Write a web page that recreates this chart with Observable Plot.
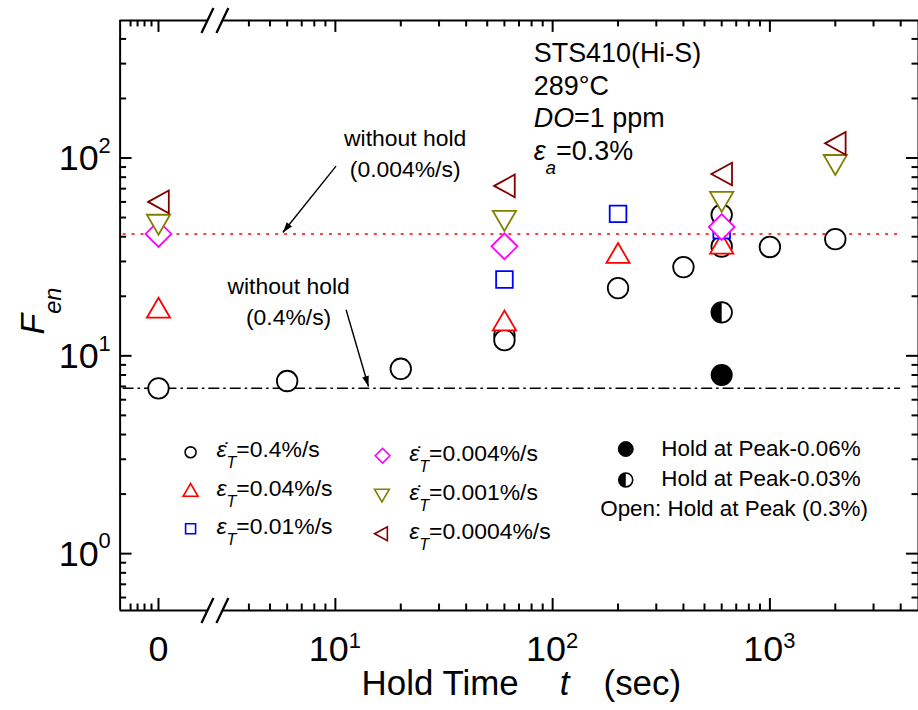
<!DOCTYPE html>
<html>
<head>
<meta charset="utf-8">
<script src="https://cdn.jsdelivr.net/npm/d3@7"></script>
<script src="https://cdn.jsdelivr.net/npm/@observablehq/plot@0.6"></script>
<style>
  html, body { margin: 0; padding: 0; background: #fff; overflow: hidden; }
  #chart { width: 918px; height: 710px; overflow: hidden; }
</style>
</head>
<body>
<div id="chart"></div>
<script>
// ---- Fen versus hold time, STS410 (Hi-S), 289 °C, DO = 1 ppm, strain amplitude 0.3% ----
// Hold time t (s); t = 0 sits on the short stub left of the axis break.
const rate0_4T    = [0, 6, 20, 60, 60, 200, 400, 600, 600, 1000, 2000];
const rate0_4F    = [6.85, 7.46, 8.6, 12.7, 12.0, 22.0, 28.1, 51.6, 35.7, 35.5, 38.9];
const rate0_04T   = [0, 60, 200, 600];
const rate0_04F   = [17.5, 15.1, 33.1, 36.9];
const rate0_01T   = [60, 200, 600];
const rate0_01F   = [24.3, 52.2, 43.2];
const rate0_004T  = [0, 60, 600];
const rate0_004F  = [41.3, 35.8, 44.8];
const rate0_001T  = [0, 60, 600, 2000];
const rate0_001F  = [46.0, 48.1, 60.0, 92.2];
const rate0_0004T = [0, 60, 600, 2000];
const rate0_0004F = [60.0, 72.3, 83.0, 118.6];
const peak006T = [600];   // hold at peak - 0.06%
const peak006F = [8.0];
const peak003T = [600];   // hold at peak - 0.03%
const peak003F = [16.6];

// Fen without hold
const noHold0_004 = 41.3;
const noHold0_4 = 6.85;

// Axis ticks
const xZero = [0];
const xDecades = [10, 100, 1000];
const xMajor = [...xZero, ...xDecades];
const xMinor = [-4, -3, -2, -1, 4, 5, 6, 7, 8, 9, 20, 30, 40, 50, 60, 70, 80, 90,
                200, 300, 400, 500, 600, 700, 800, 900, 2000, 3000, 4000];
const xDecadeExp = ["1", "2", "3"];
const yMajor = [1, 10, 100];
const yMinor = [0.6, 0.7, 0.8, 0.9, 2, 3, 4, 5, 6, 7, 8, 9, 20, 30, 40, 50, 60, 70, 80, 90, 200, 300, 400];
const yDecadeExp = ["0", "1", "2"];

// Text
const infoLines = ["STS410(Hi-S)", "289°C", "*DO*=1 ppm", "*ε*_{*a*}=0.3%"];
const noHoldLabels = ["without hold\n(0.004%/s)", "without hold\n(0.4%/s)"];
const seriesLabels = ["*ε\u0307*_{*T*}=0.4%/s", "*ε*_{*T*}=0.04%/s", "*ε*_{*T*}=0.01%/s",
                      "*ε\u0307*_{*T*}=0.004%/s", "*ε\u0307*_{*T*}=0.001%/s", "*ε*_{*T*}=0.0004%/s"];
const peakLabels = ["Hold at Peak-0.06%", "Hold at Peak-0.03%", "Open: Hold at Peak (0.3%)"];

// ---- layout ----
const W = 921, H = 710, mL = 120, mR = 0, mT = 20, mB = 98;
const frameW = W - mL - mR, frameH = H - mT - mB;
const FONT = "'Liberation Sans', Arial, Helvetica, sans-serif";

// Broken x axis: log decades for t > 0, a short linear stub holding t = 0.
const zeroPos = 0.1858, stubStep = 7 / 218;
const xPos = t => t > 0 ? Math.log10(t) : zeroPos + t * stubStep;
const xEdges = [-5.5, 4830];
const xBreak = 2.79;
const yDomain = [0.516, 496];

// ---- marker shapes ----
const rad = size => Math.sqrt(size / Math.PI);
const sym = {
  up:      {draw(c, z) { const s = rad(z); c.moveTo(0, -s); c.lineTo(1.165 * s, s); c.lineTo(-1.165 * s, s); c.closePath(); }},
  down:    {draw(c, z) { const s = rad(z); c.moveTo(0, s); c.lineTo(1.165 * s, -s); c.lineTo(-1.165 * s, -s); c.closePath(); }},
  left:    {draw(c, z) { const s = rad(z); c.moveTo(-1.035 * s, 0); c.lineTo(1.035 * s, -1.135 * s); c.lineTo(1.035 * s, 1.135 * s); c.closePath(); }},
  square:  {draw(c, z) { const s = rad(z); c.rect(-0.835 * s, -0.835 * s, 1.67 * s, 1.67 * s); }},
  diamond: {draw(c, z) { const s = rad(z) * 1.3; c.moveTo(0, -s); c.lineTo(s, 0); c.lineTo(0, s); c.lineTo(-s, 0); c.closePath(); }},
  half:    {draw(c, z) { const s = rad(z); c.moveTo(0, -s); c.arc(0, 0, s, -Math.PI / 2, Math.PI / 2, true); c.closePath(); }},
  slash:   {draw(c) { c.moveTo(-6, 12.5); c.lineTo(6, -12.5); }},
  head:    {draw(c) { c.moveTo(0, 0); c.lineTo(3.4, 10.5); c.lineTo(-3.4, 10.5); c.closePath(); }}
};

const series = [
  {t: rate0_4T,    F: rate0_4F,    symbol: "circle",    color: "#000000", r: 10.3, lr: 5.5},
  {t: rate0_04T,   F: rate0_04F,   symbol: sym.up,      color: "#ff0000", r: 10,   lr: 6.4},
  {t: rate0_01T,   F: rate0_01F,   symbol: sym.square,  color: "#0000ff", r: 10,   lr: 6.0},
  {t: rate0_004T,  F: rate0_004F,  symbol: sym.diamond, color: "#ff00ff", r: 10,   lr: 5.7},
  {t: rate0_001T,  F: rate0_001F,  symbol: sym.down,    color: "#808000", r: 10,   lr: 6.4},
  {t: rate0_0004T, F: rate0_0004F, symbol: sym.left,    color: "#800000", r: 10,   lr: 6.2}
];
const rows = (ts, Fs) => ts.map((t, i) => ({t, F: Fs[i]}));

// legend placement (px from the frame's top-left corner)
const legendMarker = [[70.7, 433.3], [70.7, 471], [70.7, 510], [263.3, 436.7], [262.7, 476.7], [261.7, 515]];
const legendText   = [[96.7, 437.7], [96.7, 476.7], [96.7, 515], [290, 442], [290, 481], [290, 520]];

const marks = [];

// reference lines (without hold)
marks.push(Plot.ruleY([noHold0_004], {stroke: "#ff0000", strokeWidth: 1.7, strokeDasharray: "3,6", insetLeft: 3, insetRight: 18}));
marks.push(Plot.ruleY([noHold0_4], {stroke: "#000000", strokeWidth: 1.5, strokeDasharray: "11,4,2.5,4", insetLeft: 3, insetRight: 18}));

// frame with a gap at the axis break
marks.push(Plot.ruleX([xEdges[0]], {strokeWidth: 2}));
marks.push(Plot.ruleX([xEdges[1]], {strokeWidth: 2}));
for (const F of yDomain) {
  marks.push(Plot.ruleY([F], {x1: xEdges[0], x2: xBreak, insetRight: 7.5, strokeWidth: 2}));
  marks.push(Plot.ruleY([F], {x1: xBreak, x2: xEdges[1], insetLeft: 7.5, strokeWidth: 2}));
}

// inward ticks on all four sides
const tick = {stroke: "#000", strokeWidth: 2};
marks.push(Plot.tickX(xMajor, {...tick, insetTop: frameH - 12}));
marks.push(Plot.tickX(xMajor, {...tick, insetBottom: frameH - 12}));
marks.push(Plot.tickX(xMinor, {...tick, insetTop: frameH - 6.5}));
marks.push(Plot.tickX(xMinor, {...tick, insetBottom: frameH - 6.5}));
marks.push(Plot.tickY(yMajor, {...tick, insetRight: frameW - 12}));
marks.push(Plot.tickY(yMajor, {...tick, insetLeft: frameW - 12}));
marks.push(Plot.tickY(yMinor, {...tick, insetRight: frameW - 6.5}));
marks.push(Plot.tickY(yMinor, {...tick, insetLeft: frameW - 6.5}));

// break marks
const breakRows = yDomain.map(F => ({t: xBreak, F}));
for (const dx of [-7.5, 7.5]) {
  marks.push(Plot.dot(breakRows, {x: "t", y: "F", dx, symbol: sym.slash, r: 5, fill: "none", stroke: "#000", strokeWidth: 2.3}));
}

// data markers
for (const s of series) {
  marks.push(Plot.dot(rows(s.t, s.F), {x: "t", y: "F", symbol: s.symbol, r: s.r, fill: "white", stroke: s.color, strokeWidth: 1.8}));
}
marks.push(Plot.dot(rows(peak006T, peak006F), {x: "t", y: "F", symbol: "circle", r: 10.3, fill: "#000", stroke: "#000", strokeWidth: 1.5}));
marks.push(Plot.dot(rows(peak003T, peak003F), {x: "t", y: "F", symbol: "circle", r: 10.3, fill: "white", stroke: "#000", strokeWidth: 1.8}));
marks.push(Plot.dot(rows(peak003T, peak003F), {x: "t", y: "F", symbol: sym.half, r: 10.3, fill: "#000", stroke: "none"}));

// arrows to the no-hold lines
const arrows = [
  {t1: 10.07, F1: 91, t2: 5.73, F2: 42.0, angle: 218.7},
  {t1: 11.2, F1: 17.1, t2: 14.2, F2: 7.0, angle: 163.7}
];
marks.push(Plot.link(arrows, {x1: "t1", y1: "F1", x2: "t2", y2: "F2", stroke: "#000", strokeWidth: 1.4}));
marks.push(Plot.dot(arrows, {x: "t2", y: "F2", rotate: "angle", symbol: sym.head, r: 5, fill: "#000", stroke: "none"}));

// labels of the no-hold lines
const noHoldAt = [{t: 20.95, F: 80.5}, {t: 6.09, F: 14.4}];
marks.push(Plot.text(noHoldAt, {x: "t", y: "F", text: (d, i) => noHoldLabels[i], fontSize: 23, lineAnchor: "bottom", lineHeight: 1.32, textAnchor: "middle", fill: "#000"}));

// condition block
infoLines.forEach((line, i) => {
  marks.push(Plot.text([line], {frameAnchor: "top-left", text: d => d, dx: 415, dy: 42 + 32.7 * i, lineAnchor: "bottom", textAnchor: "start", fontSize: 27, fill: "#000"}));
});

// legend: strain rates
series.forEach((s, i) => {
  const [mx, my] = legendMarker[i], [tx, ty] = legendText[i];
  marks.push(Plot.dot([0], {frameAnchor: "top-left", dx: mx, dy: my, symbol: s.symbol, r: s.lr, fill: "white", stroke: s.color, strokeWidth: 1.6}));
  marks.push(Plot.text([seriesLabels[i]], {frameAnchor: "top-left", text: d => d, dx: tx, dy: ty, lineAnchor: "bottom", textAnchor: "start", fontSize: 23, fill: "#000"}));
});
// legend: hold position
marks.push(Plot.dot([0], {frameAnchor: "top-left", dx: 507.3, dy: 430, symbol: "circle", r: 7.5, fill: "#000", stroke: "#000", strokeWidth: 1}));
marks.push(Plot.dot([0], {frameAnchor: "top-left", dx: 507.3, dy: 461, symbol: "circle", r: 7, fill: "white", stroke: "#000", strokeWidth: 1.6}));
marks.push(Plot.dot([0], {frameAnchor: "top-left", dx: 507.3, dy: 461, symbol: sym.half, r: 7, fill: "#000", stroke: "none"}));
[[543, 436.7], [543, 466.7], [481.7, 496.7]].forEach(([tx, ty], i) => {
  marks.push(Plot.text([peakLabels[i]], {frameAnchor: "top-left", text: d => d, dx: tx, dy: ty, lineAnchor: "bottom", textAnchor: "start", fontSize: 22.5, fill: "#000"}));
});

// tick labels
marks.push(Plot.text(xZero, {x: d => d, frameAnchor: "bottom", text: d => String(d), textAnchor: "middle", dy: 50.7, lineAnchor: "bottom", fontSize: 36, fill: "#000"}));
marks.push(Plot.text(xDecades, {x: d => d, frameAnchor: "bottom", text: () => "10", textAnchor: "end", dx: 13.4, dy: 50.7, lineAnchor: "bottom", fontSize: 36, fill: "#000"}));
marks.push(Plot.text(xDecades, {x: d => d, frameAnchor: "bottom", text: (d, i) => xDecadeExp[i], textAnchor: "start", dx: 13.4, dy: 38, lineAnchor: "bottom", fontSize: 22, fill: "#000"}));
marks.push(Plot.text(yMajor, {y: d => d, frameAnchor: "left", text: () => "10", textAnchor: "end", dx: -21.6, dy: 12.5, lineAnchor: "bottom", fontSize: 36, fill: "#000"}));
marks.push(Plot.text(yMajor, {y: d => d, frameAnchor: "left", text: (d, i) => yDecadeExp[i], textAnchor: "start", dx: -21.6, dy: -5.2, lineAnchor: "bottom", fontSize: 22, fill: "#000"}));

// axis titles
marks.push(Plot.text(["Hold Time"], {frameAnchor: "bottom", text: d => d, dx: -158.2, dy: 85, textAnchor: "start", lineAnchor: "bottom", fontSize: 35, fill: "#000"}));
marks.push(Plot.text(["t"], {frameAnchor: "bottom", text: d => d, dx: 40.5, dy: 85, textAnchor: "start", lineAnchor: "bottom", fontSize: 35, fontStyle: "italic", fill: "#000"}));
marks.push(Plot.text(["(sec)"], {frameAnchor: "bottom", text: d => d, dx: 84.5, dy: 85, textAnchor: "start", lineAnchor: "bottom", fontSize: 35, fill: "#000"}));
marks.push(Plot.text(["*F*_{*en*}"], {frameAnchor: "left", text: d => d, rotate: -90, dx: -87, dy: -4.5, textAnchor: "middle", fontSize: 34, fill: "#000"}));

const chart = Plot.plot({
  width: W, height: H,
  marginLeft: mL, marginRight: mR, marginTop: mT, marginBottom: mB,
  style: {fontFamily: FONT, background: "white", color: "#000", overflow: "visible"},
  x: {type: "linear", transform: xPos, domain: xEdges.map(xPos), axis: null},
  y: {type: "log", domain: yDomain, axis: null},
  marks
});
document.getElementById("chart").appendChild(chart);

// Light markup for mixed styles: *italic*, _{subscript}, ^{superscript}
(function richText(svg) {
  const ns = "http://www.w3.org/2000/svg";
  for (const el of svg.querySelectorAll("text")) {
    if (el.querySelector("tspan")) continue;
    const s = el.textContent;
    if (!/[*_^]/.test(s)) continue;
    const base = parseFloat(getComputedStyle(el).fontSize) || 16;
    const parts = [];
    let italic = false, mode = "", buf = "";
    const flush = () => { if (buf) parts.push({text: buf, italic, mode}); buf = ""; };
    for (let i = 0; i < s.length; i++) {
      const c = s[i];
      if (c === "*") { flush(); italic = !italic; }
      else if ((c === "_" || c === "^") && s[i + 1] === "{") { flush(); mode = c === "_" ? "sub" : "sup"; i++; }
      else if (c === "}" && mode) { flush(); mode = ""; }
      else buf += c;
    }
    flush();
    el.textContent = "";
    let shift = 0;
    for (const p of parts) {
      const ts = document.createElementNS(ns, "tspan");
      const target = p.mode === "sub" ? 0.5 * base : p.mode === "sup" ? -0.45 * base : 0;
      if (target !== shift) ts.setAttribute("dy", (target - shift).toFixed(2));
      shift = target;
      if (p.mode) ts.setAttribute("font-size", (0.7 * base).toFixed(1));
      if (p.italic) ts.setAttribute("font-style", "italic");
      ts.textContent = p.text;
      el.appendChild(ts);
    }
  }
})(chart);
</script>
</body>
</html>
